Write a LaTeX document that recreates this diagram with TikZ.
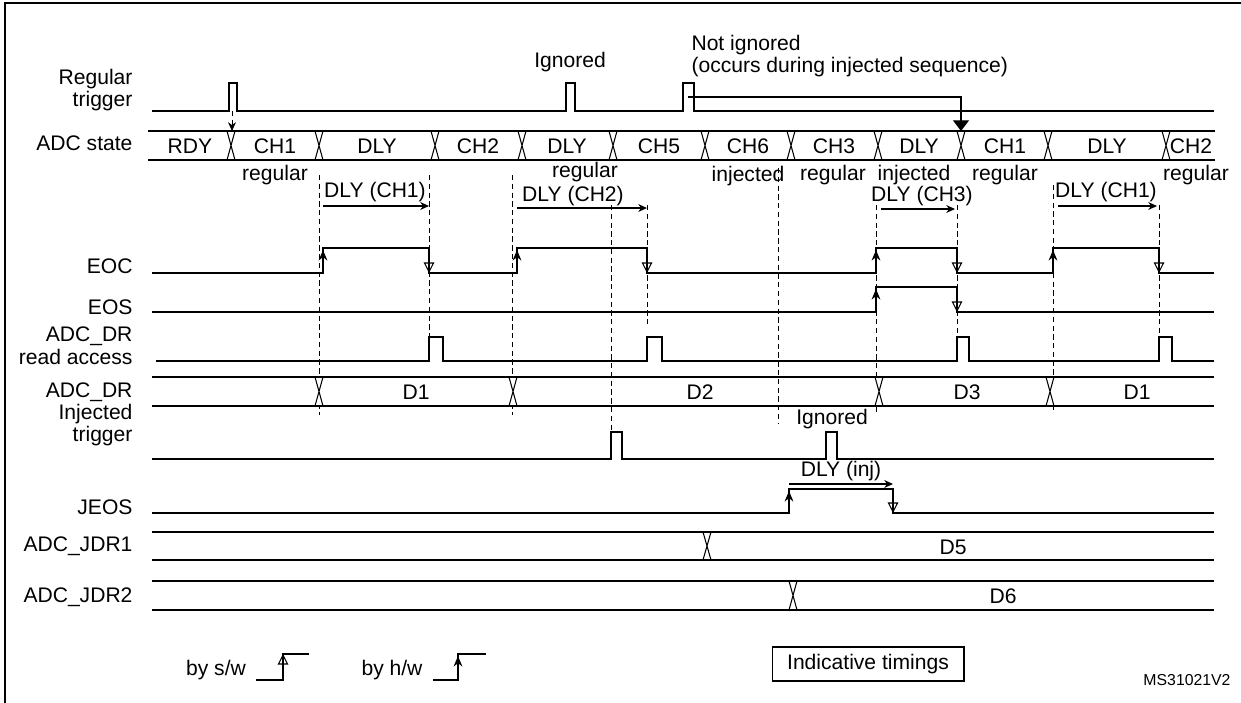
\documentclass[tikz,border=0pt]{standalone}
\usepackage{fontspec}
\setmainfont{Liberation Sans}
\usetikzlibrary{arrows.meta}

% bus row: top, bottom, start, end, transitions
\newcommand\busrow[5]{%
  \draw (#3,#1) -- (#4,#1) (#3,#2) -- (#4,#2);
  \foreach \t in {#5} {
    \fill[white] (\t-4,#1+1) rectangle (\t+4,#2-1);
    \draw (\t-4,#1) -- (\t+4,#2) (\t-4,#2) -- (\t+4,#1);
  }}

\tikzset{
  lbl/.style={anchor=east,align=right,inner sep=0pt},
  txt/.style={inner sep=0pt},
  vdash/.style={densely dashed,thin},
  hw/.style={-{Stealth[length=6pt,width=5pt]}},
  sw/.style={-{Triangle[open,length=6pt,width=6pt]}},
  dly/.style={-{Stealth[length=5pt,width=4.5pt]}}
}

\begin{document}
\begin{tikzpicture}[x=0.02cm,y=-0.02cm,line width=0.6pt,font=\fontsize{12}{13}\selectfont]
\useasboundingbox (0,0) rectangle (1241,703);
\draw[line width=1.2pt] (5,703) -- (5,3) -- (1241,3);

% signal names
\node[lbl] (nreg) at (133,90) {Regular\\trigger};
\node[lbl] (nstate) at (133,143) {ADC state};
\node[lbl] (neoc) at (133,266) {EOC};
\node[lbl] (neos) at (133,307) {EOS};
\node[lbl] (nrd) at (133,346) {ADC\_DR\\read access};
\node[lbl] (ndr) at (133,392) {ADC\_DR};
\node[lbl] (ninj) at (133,425) {Injected\\trigger};
\node[lbl] (njeos) at (133,507) {JEOS};
\node[lbl] (njdr1) at (133,546) {ADC\_JDR1};
\node[lbl] (njdr2) at (133,597) {ADC\_JDR2};

% regular trigger
\draw (152,111) -| (229,83) -| (237,111) -| (566,83) -| (575,111) -| (683,83) -| (694,111) -- (1214,111);
\node[txt] (nign1) at (570,62) {Ignored};
\node[txt,anchor=west,align=left] (nnot) at (691,56) {Not ignored\\(occurs during injected sequence)};
\draw[vdash,-{Stealth[length=5pt,width=4.5pt]}] (232,111) -- (232,131);
\draw[-{Triangle[length=6pt,width=9pt]}] (688,97) -| (961,131);

% ADC state
\busrow{131}{160}{148}{1215}{231,319,435,522,613,705,791,878,961,1048,1166}
\foreach \x/\s in {190/RDY,275/CH1,377/DLY,478/CH2,567/DLY,659/CH5,748/CH6,834/CH3,919/DLY,1005/CH1,1107/DLY,1191/CH2}
  \node[txt] at (\x,146) {\s};
\foreach \x/\y/\s in {275/175/regular,585/172/regular,748/176/injected,833/175/regular,914/175/injected,1005/175/regular,1196/175/regular}
  \node[txt] at (\x,\y) {\s};

% delay arrows
\draw[dly] (323,206) -- (429,206);
\node[txt] at (375,192) {DLY (CH1)};
\draw[dly] (517,208) -- (647,208);
\node[txt] at (573,196) {DLY (CH2)};
\draw[dly] (881,209) -- (955,209);
\node[txt] at (922,196) {DLY (CH3)};
\draw[dly] (1058,206) -- (1157,206);
\node[txt] at (1106,192) {DLY (CH1)};

% dashed markers
\draw[vdash] (319,175) -- (319,415);
\draw[vdash] (429,175) -- (429,337);
\draw[vdash] (512,175) -- (512,415);
\draw[vdash] (647,205) -- (647,326);
\draw[vdash] (611,205) -- (611,432);
\draw[vdash] (778,168) -- (778,424);
\draw[vdash] (876,205) -- (876,415);
\draw[vdash] (957,205) -- (957,340);
\draw[vdash] (1053,185) -- (1053,410);
\draw[vdash] (1159,205) -- (1159,340);

% EOC
\draw (152,273) -| (323,248) -| (429,273) -| (517,248) -| (647,273) -| (876,248) -| (957,273) -| (1053,248) -| (1159,273) -- (1214,273);
\foreach \x in {323,517,876,1053} \draw[hw] (\x,273) -- (\x,250);
\foreach \x in {429,647,957,1159} \draw[sw] (\x,248) -- (\x,273);

% EOS
\draw (152,312) -| (876,287) -| (957,312) -- (1214,312);
\draw[hw] (876,312) -- (876,289);
\draw[sw] (957,287) -- (957,312);

% ADC_DR read access
\draw (156,361) -| (429,337) -| (443,361) -| (647,337) -| (662,361) -| (957,337) -| (969,361) -| (1159,337) -| (1172,361) -- (1214,361);

% ADC_DR
\busrow{377}{406}{152}{1214}{319,513,879,1050}
\foreach \x/\s in {416/D1,700/D2,967/D3,1137/D1} \node[txt] at (\x,392) {\s};

% injected trigger
\draw (152,459) -| (611,432) -| (622,459) -| (826,432) -| (837,459) -- (1214,459);
\node[txt] (nign2) at (832,419) {Ignored};

% JEOS
\draw (152,513) -| (789,489) -| (893,513) -- (1214,513);
\draw[hw] (789,513) -- (789,491);
\draw[sw] (893,489) -- (893,513);
\draw[dly] (789,484) -- (893,484);
\node[txt] at (841,471) {DLY (inj)};

% ADC_JDR1 / ADC_JDR2
\busrow{532}{560}{152}{1214}{707}
\node[txt] at (953,547) {D5};
\busrow{581}{610}{152}{1214}{793}
\node[txt] at (1003,596) {D6};

% legend
\node[txt] (nsw) at (216,670) {by s/w};
\draw (256,680) -| (283,654) -- (309,654);
\draw[sw] (283,680) -- (283,654);
\node[txt] (nhw) at (392,670) {by h/w};
\draw (433,680) -| (458,654) -- (486,654);
\draw[hw] (458,680) -- (458,656);
\node[draw,minimum width=3.84cm,minimum height=0.68cm] (nind) at (868,664) {Indicative timings};
\node[txt,font=\fontsize{9}{10}\selectfont] (nref) at (1187,680) {MS31021V2};
\end{tikzpicture}
\end{document}
